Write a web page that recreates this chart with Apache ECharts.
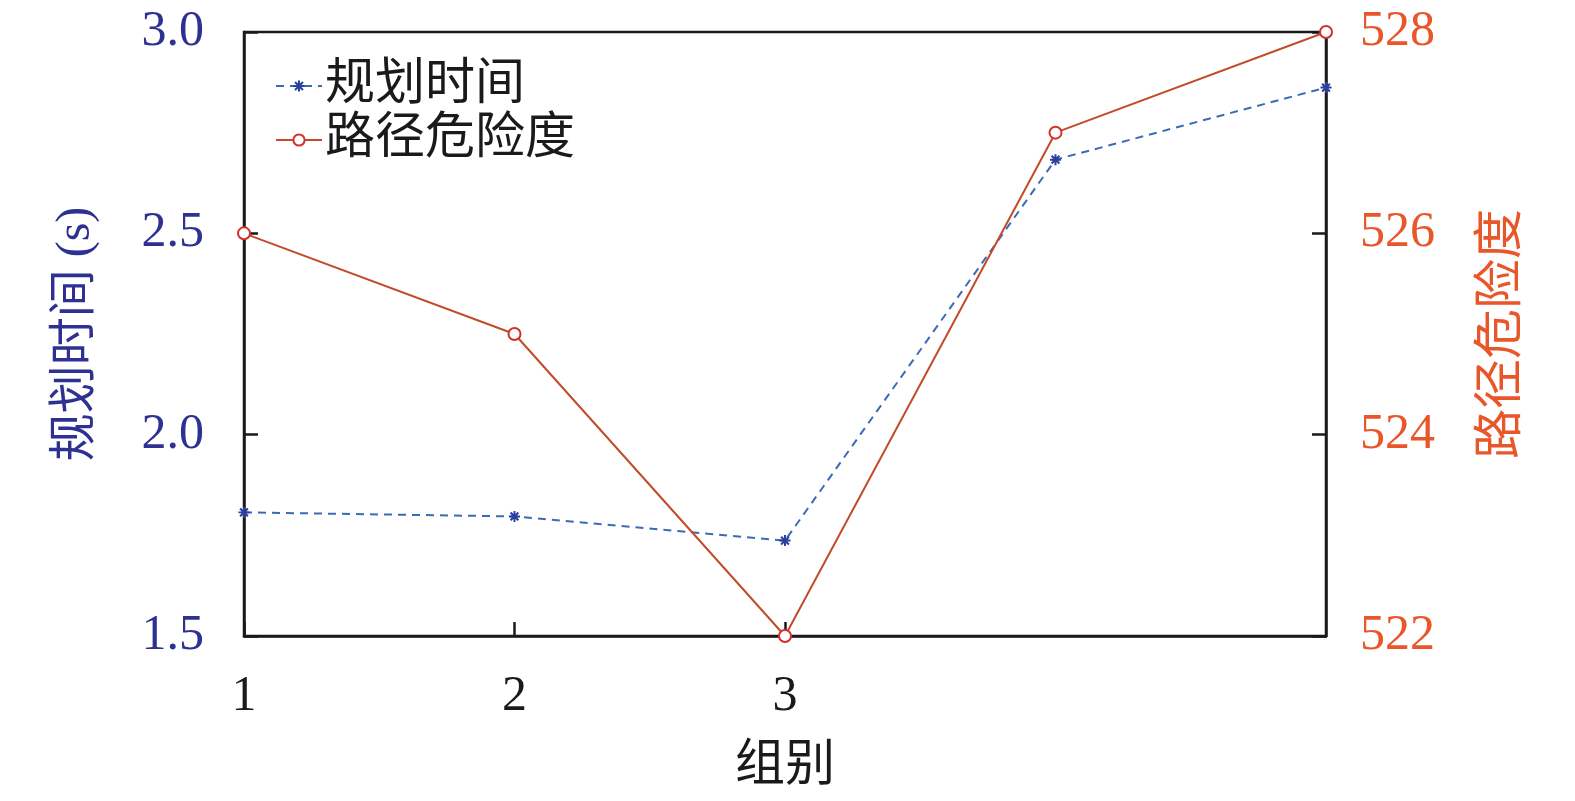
<!DOCTYPE html>
<html>
<head>
<meta charset="utf-8">
<script src="https://cdn.jsdelivr.net/npm/echarts@6/dist/echarts.min.js"></script>
<style>html,body{margin:0;padding:0;background:#fff;}#c{width:1575px;height:801px;}</style>
</head>
<body>
<div id="c"></div>
<script>
const categories = ['1', '2', '3', '4', '5'];
const xTickLabels = ['1', '2', '3', '', ''];
const planTime = [1.807, 1.797, 1.737, 2.683, 2.862];
const pathRisk = [526.0, 525.0, 522.0, 527.0, 528.0];
const leftTicks = { min: 1.5, max: 3.0, interval: 0.5 };
const rightTicks = { min: 522, max: 528, interval: 2 };

const FONT = '"Liberation Serif", "Noto Sans CJK SC", serif';
const asterisk = 'path://M-0.9,-5 L0.9,-5 L0.9,5 L-0.9,5 Z M-5,-0.9 L5,-0.9 L5,0.9 L-5,0.9 Z M-4.2,-2.9 L-2.9,-4.2 L4.2,2.9 L2.9,4.2 Z M2.9,-4.2 L4.2,-2.9 L-2.9,4.2 L-4.2,2.9 Z';

const chart = echarts.init(document.getElementById('c'), null, { renderer: 'canvas' });
chart.setOption({
  backgroundColor: '#fff',
  animation: false,
  grid: { left: 244, right: 249, top: 32, bottom: 165, show: true, borderColor: '#1a1a1a', borderWidth: 2.5, backgroundColor: 'transparent' },
  legend: {
    orient: 'vertical', left: 270, top: 56, itemGap: 4,
    itemWidth: 46, itemHeight: 14,
    textStyle: { fontFamily: FONT, fontSize: 50, color: '#1a1a1a', padding: [0, 0, 0, -2] },
    data: ['规划时间', '路径危险度']
  },
  xAxis: {
    type: 'category', data: categories, boundaryGap: false,
    name: '组别', nameLocation: 'middle', nameGap: 106,
    nameTextStyle: { fontFamily: FONT, fontSize: 50, color: '#1a1a1a' },
    axisLine: { lineStyle: { color: '#1a1a1a', width: 2.5 } },
    axisTick: { inside: true, length: 14, interval: (i) => i < 3, lineStyle: { color: '#1a1a1a', width: 2.5 } },
    axisLabel: { margin: 36, fontFamily: FONT, fontSize: 50, color: '#1a1a1a', formatter: (v, i) => xTickLabels[i] },
    splitLine: { show: false }
  },
  yAxis: [
    {
      type: 'value', min: leftTicks.min, max: leftTicks.max, interval: leftTicks.interval,
      position: 'left',
      name: '规划时间 (s)', nameLocation: 'middle', nameGap: 144, nameRotate: 90,
      nameTextStyle: { fontFamily: FONT, fontSize: 48, color: '#2e3192' },
      axisLine: { show: true, lineStyle: { color: '#1a1a1a', width: 2.5 } },
      axisTick: { show: true, inside: true, length: 14, lineStyle: { color: '#1a1a1a', width: 2.5 } },
      axisLabel: { margin: 40, fontFamily: FONT, fontSize: 50, color: '#2e3192', formatter: v => v.toFixed(1) },
      splitLine: { show: false }
    },
    {
      type: 'value', min: rightTicks.min, max: rightTicks.max, interval: rightTicks.interval,
      position: 'right',
      name: '路径危险度', nameLocation: 'middle', nameGap: 152, nameRotate: 90,
      nameTextStyle: { fontFamily: FONT, fontSize: 50, color: '#e8562a' },
      axisLine: { show: true, lineStyle: { color: '#1a1a1a', width: 2.5 } },
      axisTick: { show: true, inside: true, length: 14, lineStyle: { color: '#1a1a1a', width: 2.5 } },
      axisLabel: { margin: 34, fontFamily: FONT, fontSize: 50, color: '#e8562a' },
      splitLine: { show: false }
    }
  ],
  series: [
    {
      name: '规划时间', type: 'line', yAxisIndex: 0, data: planTime,
      symbol: asterisk, symbolSize: 11,
      itemStyle: { color: '#2b3f9e' },
      lineStyle: { color: '#3a6cb4', width: 2, type: [8, 6] },
      z: 3
    },
    {
      name: '路径危险度', type: 'line', yAxisIndex: 1, data: pathRisk,
      symbol: 'emptyCircle', symbolSize: 12,
      itemStyle: { color: '#d3302b', borderColor: '#d3302b', borderWidth: 1.8 },
      lineStyle: { color: '#c24b2a', width: 2 },
      z: 4
    }
  ]
});
</script>
</body>
</html>
